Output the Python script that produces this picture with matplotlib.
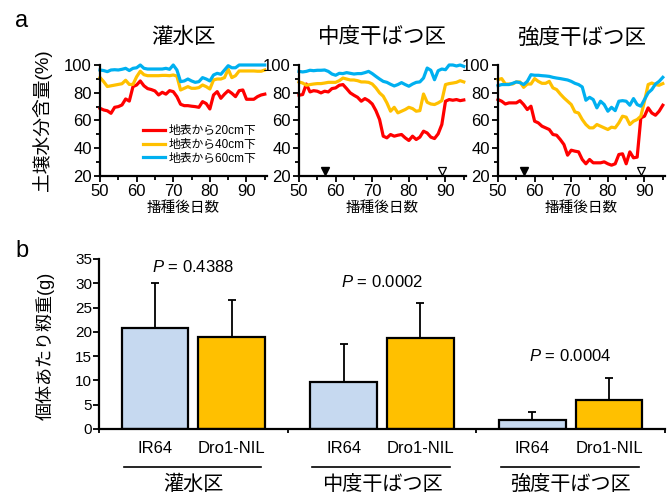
import numpy as np
import matplotlib
matplotlib.use("Agg")
import matplotlib.pyplot as plt

plt.rcParams['font.family'] = ['Liberation Sans', 'Noto Sans CJK JP']
plt.rcParams['mathtext.fontset'] = 'custom'
plt.rcParams['mathtext.rm'] = 'Liberation Sans'
plt.rcParams['mathtext.it'] = 'Liberation Sans:italic'

# ---- panel a data: soil moisture (%) by day after sowing ----
days = np.arange(50, 96)

titles = ['灌水区', '中度干ばつ区', '強度干ばつ区']
depth_labels = ['地表から20cm下', '地表から40cm下', '地表から60cm下']

irr_20 = [68.8, 67.6, 67, 65.2, 69.5, 70, 71.2, 75.5, 74, 84.4,
          85.6, 88.5, 85, 83, 82.3, 81.3, 78.4, 80.3, 79, 81.5,
          80.8, 77.2, 71.7, 70.7, 70.7, 70.3, 70, 69.5, 73.6, 72.2,
          68.3, 78.4, 80.8, 76, 79, 81.5, 79.6, 77.2, 81.5, 82,
          75.3, 75.3, 75.3, 77.2, 78.4, 79]
irr_40 = [91, 88, 84.5, 85, 85.5, 86, 86.5, 89, 86, 86,
          91.5, 95.5, 93, 92.3, 92.3, 92.3, 92.3, 92.5, 92.5, 92.3,
          92.8, 92, 82, 83.2, 84.4, 83.2, 83.2, 83.7, 85.6, 84.4,
          82.7, 89.2, 89.9, 89.9, 90.9, 97, 90.9, 92.3, 95.7, 95.7,
          95.7, 95.7, 95.7, 95.5, 95.5, 96.4]
irr_60 = [96.4, 96, 95.2, 96.4, 96.6, 96.4, 96.9, 97.6, 96, 97.6,
          98, 100, 97.6, 97.1, 97.1, 97.1, 97.1, 97.1, 97.6, 96.9,
          100, 96.4, 88, 88.5, 89.9, 88.5, 87.5, 88, 90.9, 89.9,
          88.5, 92.8, 94, 93.3, 96.4, 99.5, 98, 98, 100, 100,
          100, 100, 100, 100, 100, 100]

mod_20 = [78.2, 78.7, 86.3, 80.6, 81.5, 81.1, 79.9, 81.1, 80.6, 83,
          83.5, 85.4, 85.9, 83, 79.9, 78.2, 76.7, 73.9, 75.8, 74.3,
          71.9, 67.1, 60.7, 48.7, 47.5, 49.9, 48.7, 49.4, 49.9, 47.5,
          45.6, 48.7, 46.3, 48, 52.3, 51, 48, 47, 50.4, 57.1,
          73.9, 75.1, 74.6, 75.1, 74.3, 74.8]
mod_40 = [87.8, 87, 85.4, 85.9, 86.3, 86.6, 86.6, 87, 87.5, 87.5,
          87.5, 88.7, 90.6, 89.9, 89.2, 89.2, 88.7, 87.8, 87.8, 87.5,
          86.3, 83.5, 79.9, 77.5, 72.7, 66.7, 69.5, 65.5, 66.7, 67.9,
          69.5, 68.6, 66.7, 67.1, 79.1, 73.1, 71.9, 71.5, 72.7, 74.3,
          85.9, 86.6, 87, 87.5, 88.7, 87.8]
mod_60 = [95.4, 95, 95.4, 96.2, 95.9, 96.2, 96.2, 96.4, 95.4, 93.5,
          92.6, 94, 93.8, 94.5, 94, 93.5, 93.8, 93.8, 94.5, 95.4,
          93.8, 91.8, 89.9, 88.2, 87.5, 86.1, 84.9, 85.9, 87.3, 85.9,
          84.7, 86.3, 87.5, 87.8, 90.6, 97.8, 96.2, 89.4, 95.9, 97.1,
          96.6, 100, 100, 99.3, 100, 99]

sev_20 = [75.1, 73.9, 71.9, 72.7, 72.7, 72.7, 74.3, 71.5, 67.9, 70.3,
          59.5, 58.3, 55.9, 54.7, 53.5, 49.9, 49.4, 46.3, 42.7, 35,
          38.6, 37.9, 37.4, 31.9, 28.8, 31.9, 29.5, 29.5, 29.5, 30.2,
          28.8, 27.8, 28.8, 35.5, 36, 28.8, 37.4, 33.1, 33.6, 61.9,
          63.1, 69.1, 65.4, 63.8, 66.7, 71]
sev_40 = [89.4, 90.2, 86.3, 86.3, 86.3, 87.8, 87.8, 83.9, 86.3, 86.3,
          90.2, 88.2, 86.8, 86.8, 88.2, 83.5, 82.3, 79.1, 76.3, 73.9,
          71.5, 66.2, 65.4, 60.7, 57.1, 54.7, 54.7, 57.1, 55.9, 54.7,
          53.5, 55.2, 54.7, 58.3, 63.1, 62.4, 57.1, 59.5, 60.7, 63.1,
          73.9, 85.9, 87, 85.9, 85.4, 86.6]
sev_60 = [85.1, 85.9, 85.9, 85.9, 86.8, 87.8, 87.3, 85.9, 88.2, 93,
          92.6, 92.6, 92.3, 92.1, 91.8, 91.1, 90.6, 90.2, 89.7, 89.2,
          88.2, 86.8, 85.9, 84.2, 74.6, 76.7, 75.1, 69.1, 73.9, 71.5,
          66.7, 69.5, 67.1, 73.9, 74.3, 73.9, 71, 75.8, 71.5, 70.3,
          75.1, 79.9, 82.3, 86.3, 88.2, 91.1]

panel_series = [[irr_20, irr_40, irr_60],
                [mod_20, mod_40, mod_60],
                [sev_20, sev_40, sev_60]]
drought_start = 57   # filled triangle
rewater_day = 89     # open triangle

# ---- panel b data: grain weight per plant (g) ----
lines_b = ['IR64', 'Dro1-NIL']
ir64_mean = [20.85, 9.7, 1.8]
ir64_sd = [9.15, 7.9, 1.7]
nil_mean = [18.9, 18.8, 5.9]
nil_sd = [7.7, 7.2, 4.7]
p_labels = ['0.4388', '0.0002', '0.0004']

colors = ['#FF0000', '#FFC000', '#00B0F0']
bar_colors = ['#C6D9F0', '#FFC000']

fig = plt.figure(figsize=(6.68, 4.97), dpi=100)
W, H = 668, 497


def px_axes(x0, y0, x1, y1):
    return fig.add_axes([x0 / W, 1 - y1 / H, (x1 - x0) / W, (y1 - y0) / H])


lefts = [100, 299, 498]
for i in range(3):
    ax = px_axes(lefts[i], 65, lefts[i] + 167, 176)
    for s, c in zip(panel_series[i], colors):
        ax.plot(days, s, color=c, lw=2.3, clip_on=False, solid_joinstyle='round')
    ax.set_xlim(50, 95.6)
    ax.set_ylim(20, 100)
    ax.set_xticks([50, 60, 70, 80, 90])
    ax.set_xticks(np.arange(50, 96, 5), minor=True)
    ax.set_yticks([20, 40, 60, 80, 100])
    ax.set_yticks(np.arange(20, 101, 10), minor=True)
    for sp in ['top', 'right']:
        ax.spines[sp].set_visible(False)
    for sp in ['left', 'bottom']:
        ax.spines[sp].set_linewidth(1.6)
    ax.tick_params(which='major', length=4, width=1.3, labelsize=12, pad=2)
    ax.tick_params(which='minor', length=3, width=1.3)
    ax.set_title(titles[i], fontsize=15.5, y=1.12)
    ax.set_xlabel('播種後日数', fontsize=10.5, labelpad=1)
    if i == 0:
        ax.set_ylabel('土壌水分含量(%)', fontsize=13.5)
        ax.yaxis.set_label_coords(-0.29, 0.5)
        ax.legend(depth_labels, loc='lower left', bbox_to_anchor=(0.22, 0.05),
                  frameon=False, fontsize=8.5, handlelength=1.9,
                  handletextpad=0.3, labelspacing=0.15, borderpad=0)
    else:
        ax.plot([drought_start], [23.3], marker='v', ms=6, color='black',
                clip_on=False)
        ax.plot([rewater_day], [23.3], marker='v', ms=6, mfc='white',
                mec='black', mew=0.9, clip_on=False)

fig.text(15 / W, 1 - 27 / H, 'a', fontsize=17)
fig.text(15 / W, 1 - 257 / H, 'b', fontsize=17)

# ---- panel b ----
axb = px_axes(99, 259, 665, 429)
groups = np.arange(3)
off, bw = 0.203, 0.354
axb.bar(groups + 0.5 - off, ir64_mean, bw, color=bar_colors[0],
        edgecolor='black', linewidth=1.6, zorder=2)
axb.bar(groups + 0.5 + off, nil_mean, bw, color=bar_colors[1],
        edgecolor='black', linewidth=1.6, zorder=2)
axb.errorbar(groups + 0.5 - off, ir64_mean, yerr=[[0] * 3, ir64_sd], fmt='none',
             ecolor='black', elinewidth=1.3, capsize=3, capthick=1.3, zorder=1)
axb.errorbar(groups + 0.5 + off, nil_mean, yerr=[[0] * 3, nil_sd], fmt='none',
             ecolor='black', elinewidth=1.3, capsize=3, capthick=1.3, zorder=1)
axb.set_xlim(0, 3)
axb.set_ylim(0, 35)
axb.set_yticks(np.arange(0, 36, 5))
axb.set_xticks([0, 1, 2, 3])
axb.set_xticklabels([])
for sp in ['top', 'right']:
    axb.spines[sp].set_visible(False)
for sp in ['left', 'bottom']:
    axb.spines[sp].set_linewidth(1.6)
axb.tick_params(axis='y', length=4, width=1.3, labelsize=11, pad=1)
axb.tick_params(axis='x', length=3, width=1.3)
axb.set_ylabel('個体あたり籾重(g)', fontsize=13)
axb.yaxis.set_label_coords(-0.078, 0.49)

p_y = [33.4, 30.3, 15.1]
for g in range(3):
    axb.text(g + 0.5, p_y[g], '$\\mathit{P}$ = ' + p_labels[g],
             ha='center', va='center', fontsize=12)
    axb.text(g + 0.5 - off, -0.112, lines_b[0], ha='center', va='center',
             fontsize=12, transform=axb.get_xaxis_transform())
    axb.text(g + 0.5 + off, -0.112, lines_b[1], ha='center', va='center',
             fontsize=12, transform=axb.get_xaxis_transform())
    axb.plot([g + 0.13, g + 0.86], [-0.2235, -0.2235], color='black', lw=1.2,
             transform=axb.get_xaxis_transform(), clip_on=False)
    axb.text(g + 0.5, -0.325, titles[g], ha='center', va='center',
             fontsize=14.5, transform=axb.get_xaxis_transform())

fig.savefig('out.png', dpi=100)
